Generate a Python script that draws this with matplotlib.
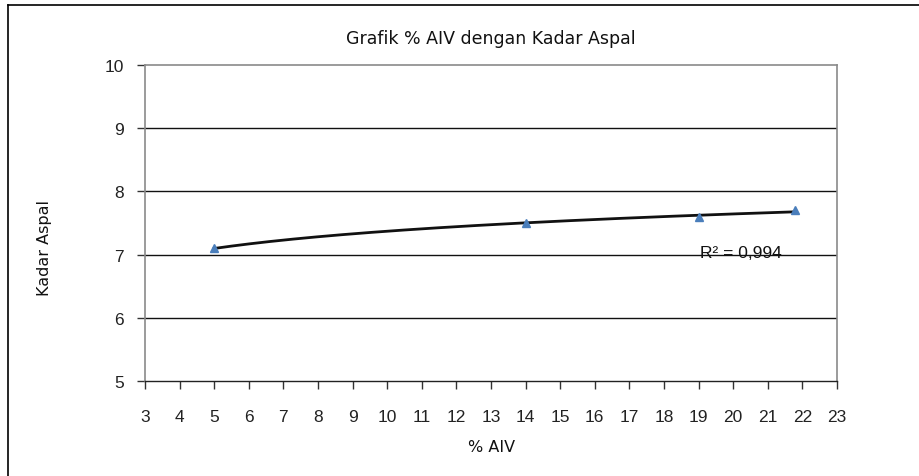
import numpy as np
import matplotlib
matplotlib.use("Agg")
import matplotlib.pyplot as plt
from matplotlib.lines import Line2D

# Data
aiv = [5.0, 14.0, 19.0, 21.8]
kadar_aspal = [7.1, 7.5, 7.6, 7.7]
x_ticks = list(range(3, 24))
y_ticks = [5, 6, 7, 8, 9, 10]
title = "Grafik % AIV dengan Kadar Aspal"
x_label = "% AIV"
y_label = "Kadar Aspal"
r2_text = "R² = 0,994"

W, H = 920, 477
fig = plt.figure(figsize=(W / 100, H / 100), dpi=100)
fig.patch.set_facecolor("white")

# outer chart border (left and top visible)
fig.add_artist(Line2D([8 / W, 8 / W], [0, 1 - 6 / H], transform=fig.transFigure, color="black", lw=1.2))
fig.add_artist(Line2D([8 / W, 1], [1 - 6 / H, 1 - 6 / H], transform=fig.transFigure, color="black", lw=1.2))

left, right, top, bottom = 145, 837, 66, 382
ax = fig.add_axes([left / W, 1 - bottom / H, (right - left) / W, (bottom - top) / H])
ax.set_xlim(3, 23)
ax.set_ylim(5, 10)
ax.set_xticks(x_ticks)
ax.set_yticks(y_ticks)

lab_font = "Liberation Sans"
ax.set_xticklabels([str(v) for v in x_ticks], fontsize=12.5, family=lab_font, color="#222222")
ax.set_yticklabels([str(v) for v in y_ticks], fontsize=12.5, family=lab_font, color="#222222")
ax.tick_params(axis="x", direction="out", length=6, width=1, color="#333333", pad=14)
ax.tick_params(axis="y", direction="out", length=6, width=1, color="#333333", pad=9)

# gridlines
for yv in y_ticks[1:-1]:
    ax.axhline(yv, color="#111111", lw=1.0, zorder=1)

for s in ["left", "right", "top"]:
    ax.spines[s].set_color("#8a8a8a")
    ax.spines[s].set_linewidth(1.2)
ax.spines["bottom"].set_color("#222222")
ax.spines["bottom"].set_linewidth(1.0)

# logarithmic trendline
xa = np.array(aiv)
ya = np.array(kadar_aspal)
a, b = np.polyfit(np.log(xa), ya, 1)
xs = np.linspace(xa.min(), xa.max(), 200)
ax.plot(xs, a * np.log(xs) + b, color="#111111", lw=2.0, zorder=3)

ax.plot(aiv, kadar_aspal, linestyle="none", marker="^", markersize=6,
        color="#4A7EBB", markeredgecolor="#4A7EBB", zorder=4)

ax.text(19.05, 7.04, r2_text, fontsize=12.5, family=lab_font, color="#111111",
        ha="left", va="center", zorder=5)

fig.text(491 / W, 1 - 39 / H, title, fontsize=12.5, ha="center", va="center", color="#111111")
fig.text(492 / W, 1 - 448 / H, x_label, fontsize=11.5, ha="center", va="center", color="#111111")
fig.text(45 / W, 1 - 248 / H, y_label, fontsize=11.5, ha="center", va="center", rotation=90, color="#111111")

fig.savefig("out.png", dpi=100)
